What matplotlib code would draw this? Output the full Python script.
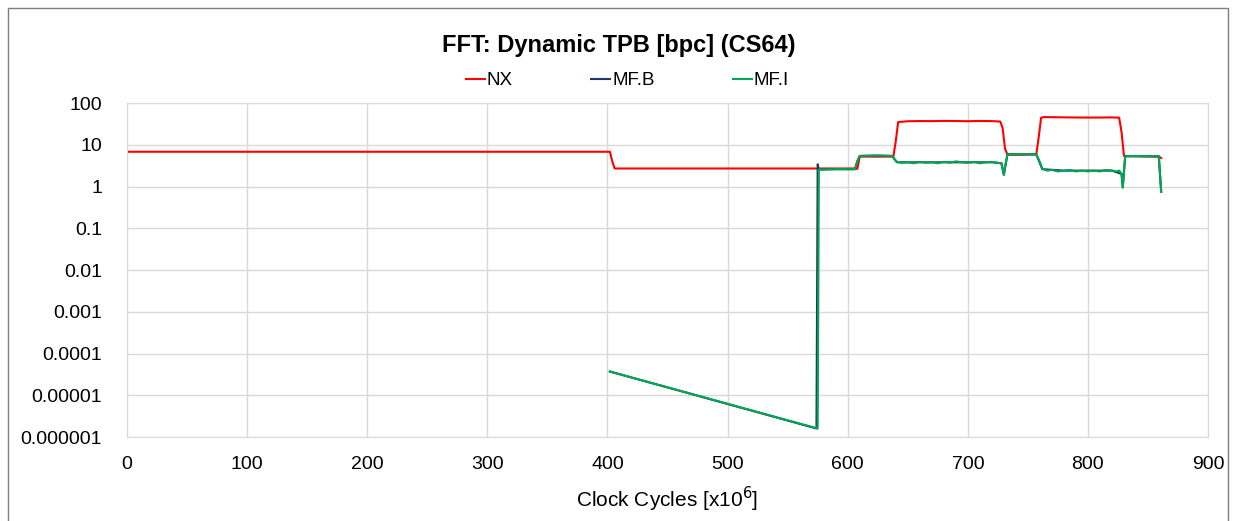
import matplotlib
matplotlib.use("Agg")
import matplotlib.pyplot as plt
from matplotlib.patches import Rectangle

plt.rcParams['font.family'] = ['Liberation Sans', 'DejaVu Sans']

# NX series (clock cycles x10^6, bpc)
nx_x = [0, 402, 404, 406, 606, 608, 610, 638, 640, 642, 650, 660, 670, 680, 690,
        700, 710, 720, 727, 729, 731, 733, 745, 757, 759, 761, 763, 775, 790, 805,
        820, 826, 828, 830, 845, 859, 861]
nx_y = [6.8, 6.8, 4.0, 2.7, 2.7, 2.65, 5.2, 5.2, 12, 35, 36.5, 37, 36.8, 37.2, 37,
        36.6, 37.1, 36.8, 36, 25, 8, 5.8, 5.8, 5.9, 15, 44, 46, 45.5, 45, 44.8,
        45.2, 44.5, 20, 5.4, 5.3, 5.2, 4.8]

# MF.B series
mfb_x = [402, 574, 575, 576, 590, 606, 608, 610, 625, 637, 639, 641, 660, 680, 700,
         720, 728, 730, 733, 757, 762, 780, 800, 820, 828, 829, 831, 859, 861]
mfb_y = [3.7e-5, 1.6e-6, 3.4, 2.55, 2.6, 2.6, 4.0, 5.4, 5.5, 5.4, 4.5, 3.8, 3.8, 3.8, 3.8,
         3.8, 3.6, 1.9, 5.9, 5.9, 2.6, 2.4, 2.4, 2.4, 2.0, 0.95, 5.3, 5.3, 0.75]

# MF.I series
mfi_x = [402, 575, 576, 590, 606, 608, 610, 625, 637, 639, 641, 645, 650, 655, 660,
         665, 670, 675, 680, 685, 690, 695, 700, 705, 710, 715, 720, 725, 728, 730,
         731, 733, 745, 757, 759, 762, 766, 770, 775, 780, 785, 790, 795, 800, 805,
         810, 815, 820, 824, 826, 828, 829, 831, 840, 850, 859, 860, 861]
mfi_y = [3.7e-5, 1.6e-6, 2.55, 2.6, 2.6, 4.0, 5.4, 5.5, 5.4, 4.5, 3.9, 3.7, 3.8, 3.6, 3.9,
         3.7, 3.8, 3.6, 3.9, 3.7, 4.0, 3.8, 3.7, 3.9, 3.6, 3.8, 3.9, 3.7, 3.6, 1.9,
         3.0, 5.9, 6.0, 5.9, 4.5, 2.7, 2.4, 2.5, 2.3, 2.4, 2.5, 2.3, 2.4, 2.3, 2.4,
         2.3, 2.5, 2.4, 2.3, 2.4, 2.0, 0.95, 5.3, 5.4, 5.3, 5.3, 2.0, 0.75]

y_ticks = [1e-6, 1e-5, 1e-4, 1e-3, 1e-2, 1e-1, 1, 10, 100]
y_labels = ['0.000001', '0.00001', '0.0001', '0.001', '0.01', '0.1', '1', '10', '100']
x_ticks = [0, 100, 200, 300, 400, 500, 600, 700, 800, 900]

fig = plt.figure(figsize=(12.38, 5.21), dpi=100)
ax = fig.add_axes([0.1026, 0.1612, 0.8732, 0.6411])

ax.plot(nx_x, nx_y, color='#ff0000', lw=1.5, label='NX')
ax.plot(mfb_x, mfb_y, color='#1f3864', lw=1.5, label='MF.B')
ax.plot(mfi_x, mfi_y, color='#00a651', lw=1.5, label='MF.I')

ax.set_yscale('log')
ax.set_ylim(1e-6, 100)
ax.set_xlim(0, 900)
ax.set_yticks(y_ticks)
ax.set_yticklabels(y_labels)
ax.minorticks_off()
ax.set_xticks(x_ticks)
ax.tick_params(axis='y', length=0, labelsize=14, pad=18)
ax.tick_params(axis='x', length=0, labelsize=14, pad=14)
ax.grid(True, color='#d9d9d9', lw=1)
for s in ax.spines.values():
    s.set_color('#d9d9d9')

ax.set_xlabel('Clock Cycles [x10$^{6}$]', fontsize=15, labelpad=8)
fig.suptitle('FFT: Dynamic TPB [bpc] (CS64)', fontsize=17, fontweight='bold',
             y=0.913, va='center')
fig.legend(loc='center', bbox_to_anchor=(0.507, 0.845), ncol=3, frameon=False,
           fontsize=13.5, handlelength=1.0, handletextpad=0.1, columnspacing=4.2)

fig.patches.append(Rectangle((8 / 1238, -0.01), 1220 / 1238, 1 - 8 / 521 + 0.01,
                             transform=fig.transFigure, fill=False,
                             edgecolor='#7f7f7f', lw=1))

fig.savefig('out.png', dpi=100)
